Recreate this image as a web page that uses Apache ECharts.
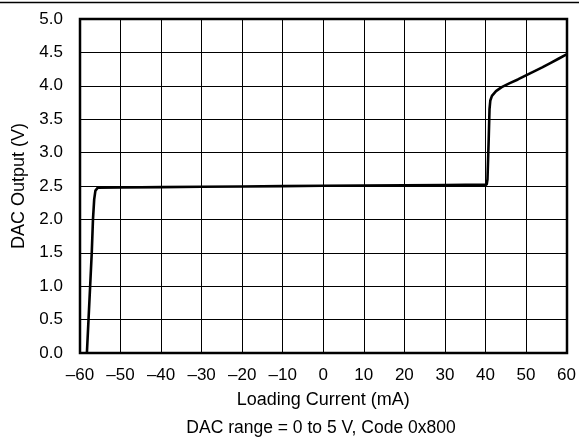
<!DOCTYPE html>
<html>
<head>
<meta charset="utf-8">
<script src="https://cdn.jsdelivr.net/npm/echarts@6/dist/echarts.min.js"></script>
<style>
  html, body { margin: 0; padding: 0; background: #fff; }
  #chart { width: 579px; height: 440px; }
</style>
</head>
<body>
<div id="chart"></div>
<script>
// loading current (mA) and DAC output (V)
let currentMA = [-58.3, -57.9, -57.5, -57.1, -56.8, -56.5, -56.2, -55.6, -50, -40, -30, -20, -10, 0, 10, 20, 30, 40.3,
  40.5, 40.8, 41.0, 41.2, 41.6, 42.6, 44, 46, 48, 50, 52, 54, 56, 58, 60]
let outputV = [0, 0.5, 1.0, 1.5, 2.0, 2.3, 2.43, 2.475, 2.478, 2.483, 2.488, 2.493, 2.498, 2.503, 2.507, 2.511, 2.515, 2.52,
  2.6, 3.2, 3.65, 3.78, 3.85, 3.92, 3.98, 4.04, 4.095, 4.155, 4.215, 4.275, 4.34, 4.405, 4.47]

let xTicks = { min: -60, max: 60, step: 10 }
let yTicks = { min: 0, max: 5, step: 0.5 }

let fontFamily = 'Liberation Sans, Arial, sans-serif'

let myChart = echarts.init(document.getElementById('chart'))

myChart.setOption({
  animation: false,
  title: {
    text: 'DAC range = 0 to 5 V, Code 0x800',
    left: 316,
    textAlign: 'center',
    top: 414,
    textStyle: { fontFamily: fontFamily, fontSize: 17.5, fontWeight: 'normal', color: '#000' }
  },
  grid: { left: 80, right: 12, top: 19, bottom: 87 },
  xAxis: {
    type: 'value',
    min: xTicks.min,
    max: xTicks.max,
    interval: xTicks.step,
    name: 'Loading Current (mA)',
    nameLocation: 'middle',
    nameGap: 38,
    nameTextStyle: { fontFamily: fontFamily, fontSize: 18, color: '#000' },
    axisLine: { show: false },
    axisTick: { show: false },
    axisLabel: {
      margin: 14,
      fontFamily: fontFamily,
      fontSize: 17,
      color: '#000',
      formatter: v => (v < 0 ? '\u2013' + Math.abs(v) : String(v))
    },
    splitLine: { lineStyle: { color: '#000', width: 1 } }
  },
  yAxis: {
    type: 'value',
    min: yTicks.min,
    max: yTicks.max,
    interval: yTicks.step,
    name: 'DAC Output (V)',
    nameLocation: 'middle',
    nameGap: 49,
    nameRotate: 90,
    nameTextStyle: { fontFamily: fontFamily, fontSize: 18, color: '#000' },
    axisLine: { show: false },
    axisTick: { show: false },
    axisLabel: {
      margin: 17,
      fontFamily: fontFamily,
      fontSize: 17,
      color: '#000',
      formatter: v => v.toFixed(1)
    },
    splitLine: { lineStyle: { color: '#000', width: 1 } }
  },
  graphic: [
    {
      // rule across the top of the figure
      type: 'line',
      shape: { x1: 0, y1: 2.5, x2: 579, y2: 2.5 },
      style: { stroke: '#000', lineWidth: 1.5 }
    },
    {
      // heavy plot frame
      type: 'rect',
      shape: { x: 80, y: 19, width: 487, height: 334 },
      style: { fill: null, stroke: '#000', lineWidth: 2.5 },
      z: 10
    }
  ],
  series: [
    {
      type: 'line',
      showSymbol: false,
      data: currentMA.map((x, i) => [x, outputV[i]]),
      lineStyle: { color: '#000', width: 2.6 },
      z: 5
    }
  ]
})
</script>
</body>
</html>
